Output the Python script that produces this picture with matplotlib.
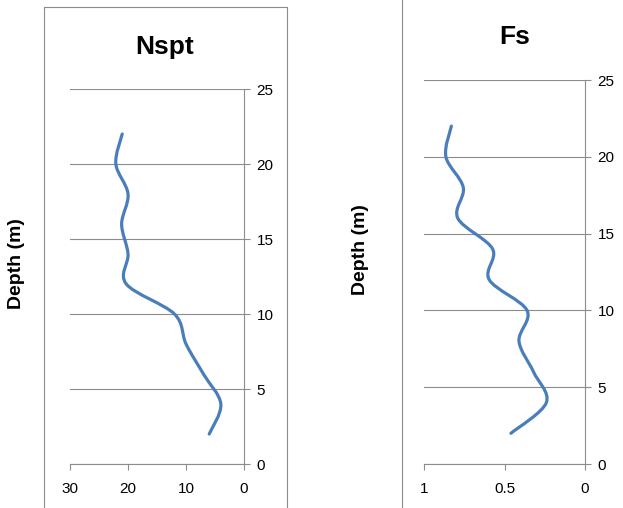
import numpy as np
import matplotlib
matplotlib.use('Agg')
import matplotlib.pyplot as plt
from matplotlib.path import Path
from matplotlib.patches import PathPatch
from matplotlib.lines import Line2D

# -- data
depth = [2, 4, 6, 8, 10, 12, 14, 16, 18, 20, 22]
nspt = [6.0, 4.0, 7.0, 10.0, 12.0, 20.3, 20.0, 21.1, 20.0, 22.1, 21.0]
fs = [0.46, 0.24, 0.32, 0.41, 0.36, 0.595, 0.574, 0.79, 0.756, 0.864, 0.83]

nspt_ticks = [30, 20, 10, 0]
fs_ticks = [1, 0.5, 0]
depth_ticks = [0, 5, 10, 15, 20, 25]

BLUE = '#4a7ebb'
GRAY = '#8c8c8c'

plt.rcParams['font.family'] = ['Liberation Sans', 'DejaVu Sans']


def smooth_path(x, y):
    """Excel-style smoothed line: Bezier segments through the data points"""
    p = np.column_stack([x, y]).astype(float)
    n = len(p)
    verts = [p[0]]
    codes = [Path.MOVETO]
    for i in range(n - 1):
        p0 = p[i - 1] if i > 0 else p[i]
        p3 = p[i + 2] if i + 2 < n else p[i + 1]
        c1 = p[i] + (p[i + 1] - p0) / 6
        c2 = p[i + 1] - (p3 - p[i]) / 6
        verts += [c1, c2, p[i + 1]]
        codes += [Path.CURVE4] * 3
    return Path(verts, codes)


def setup(ax, xmax, xticks):
    ax.set_xlim(xmax, 0)
    ax.set_ylim(0, 25)
    ax.set_xticks(xticks)
    ax.set_yticks(depth_ticks)
    ax.set_xticklabels([str(t) for t in xticks])
    ax.yaxis.tick_right()
    for s in ['left', 'top']:
        ax.spines[s].set_visible(False)
    for s in ['right', 'bottom']:
        ax.spines[s].set_color(GRAY)
        ax.spines[s].set_linewidth(0.8)
    ax.tick_params(axis='both', colors=GRAY, labelcolor='black',
                   labelsize=11, length=4, width=0.8, direction='out')
    ax.tick_params(axis='x', pad=9)
    ax.tick_params(axis='y', pad=5)
    ax.grid(axis='y', color=GRAY, linewidth=0.8)
    ax.set_axisbelow(True)
    ax.set_facecolor('none')


fig = plt.figure(figsize=(6.23, 5.08), dpi=100)

ax1 = fig.add_axes([0.1124, 0.0866, 0.2793, 0.7382])
setup(ax1, 30, nspt_ticks)
ax1.add_patch(PathPatch(smooth_path(nspt, depth), facecolor='none',
                        edgecolor=BLUE, linewidth=2.3, capstyle='round'))

ax2 = fig.add_axes([0.6806, 0.0866, 0.2584, 0.7559])
setup(ax2, 1, fs_ticks)
ax2.add_patch(PathPatch(smooth_path(fs, depth), facecolor='none',
                        edgecolor=BLUE, linewidth=2.3, capstyle='round'))

# -- titles and depth labels
fig.text(0.2648, 0.9075, 'Nspt', ha='center', va='center',
         fontsize=19, fontweight='bold')
fig.text(0.8266, 0.927, 'Fs', ha='center', va='center',
         fontsize=19, fontweight='bold')
fig.text(0.0257, 0.482, 'Depth (m)', rotation=90, ha='center', va='center',
         fontsize=14, fontweight='bold')
fig.text(0.578, 0.508, 'Depth (m)', rotation=90, ha='center', va='center',
         fontsize=14, fontweight='bold')

# -- chart frames
fig.add_artist(Line2D([0.0706, 0.0706, 0.4607, 0.4607], [0, 0.9862, 0.9862, 0],
                      color=GRAY, linewidth=0.8))
fig.add_artist(Line2D([0.6453, 0.6453], [0, 1], color=GRAY, linewidth=0.8))

fig.savefig('out.png', dpi=100)
